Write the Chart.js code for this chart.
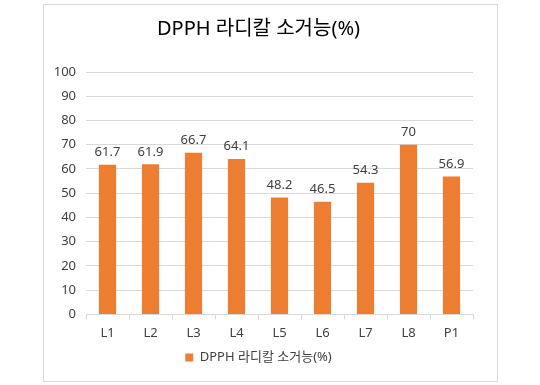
<!DOCTYPE html>
<html>
<head>
<meta charset="utf-8">
<script src="https://cdn.jsdelivr.net/npm/chart.js@4"></script>
<style>
  body { margin: 0; background: #fff; }
  #wrap { position: absolute; left: 43px; top: 4px; width: 453px; height: 376px; border: 1px solid #d9d9d9; }
</style>
</head>
<body>
<div id="wrap"><canvas id="chart"></canvas></div>
<script>
const categories = ["L1", "L2", "L3", "L4", "L5", "L6", "L7", "L8", "P1"];
const scavenging = [61.7, 61.9, 66.7, 64.1, 48.2, 46.5, 54.3, 70, 56.9];
const seriesName = "DPPH 라디칼 소거능(%)";
const titleText = "DPPH 라디칼 소거능(%)";

const FONT = '"Noto Sans", "Noto Sans CJK KR", sans-serif';

const valueLabels = {
  id: "valueLabels",
  afterDatasetsDraw(chart) {
    const ctx = chart.ctx;
    const meta = chart.getDatasetMeta(0);
    ctx.save();
    ctx.font = `13px ${FONT}`;
    ctx.fillStyle = "#404040";
    ctx.textAlign = "center";
    ctx.textBaseline = "bottom";
    meta.data.forEach((bar, i) => {
      ctx.fillText(String(scavenging[i]), bar.x, bar.y - 6);
    });
    ctx.restore();
  }
};

new Chart(document.getElementById("chart"), {
  type: "bar",
  data: {
    labels: categories,
    datasets: [{
      label: seriesName,
      data: scavenging,
      backgroundColor: "#ed7d31",
      categoryPercentage: 1,
      barPercentage: 0.4
    }]
  },
  options: {
    responsive: true,
    maintainAspectRatio: false,
    animation: false,
    layout: { padding: { top: 8, right: 24, bottom: 7, left: 0 } },
    plugins: {
      title: {
        display: true,
        text: titleText,
        color: "#000",
        font: { family: FONT, size: 20, weight: "normal" },
        padding: { top: 4, bottom: 31 }
      },
      legend: {
        position: "bottom",
        labels: {
          color: "#404040",
          font: { family: FONT, size: 13 },
          boxWidth: 8,
          boxHeight: 8,
          padding: 4
        }
      },
      tooltip: { enabled: false }
    },
    scales: {
      x: {
        grid: { display: true, drawOnChartArea: false, offset: true, tickLength: 5, color: "#d9d9d9" },
        border: { color: "#d9d9d9" },
        ticks: { color: "#404040", font: { family: FONT, size: 13 }, padding: 6 }
      },
      y: {
        min: 0,
        max: 100,
        afterFit: (scale) => { scale.width = 42; },
        grid: { color: "#d9d9d9", drawTicks: false },
        border: { display: false },
        ticks: { stepSize: 10, color: "#404040", font: { family: FONT, size: 13 }, padding: 10 }
      }
    }
  },
  plugins: [valueLabels]
});
</script>
</body>
</html>
